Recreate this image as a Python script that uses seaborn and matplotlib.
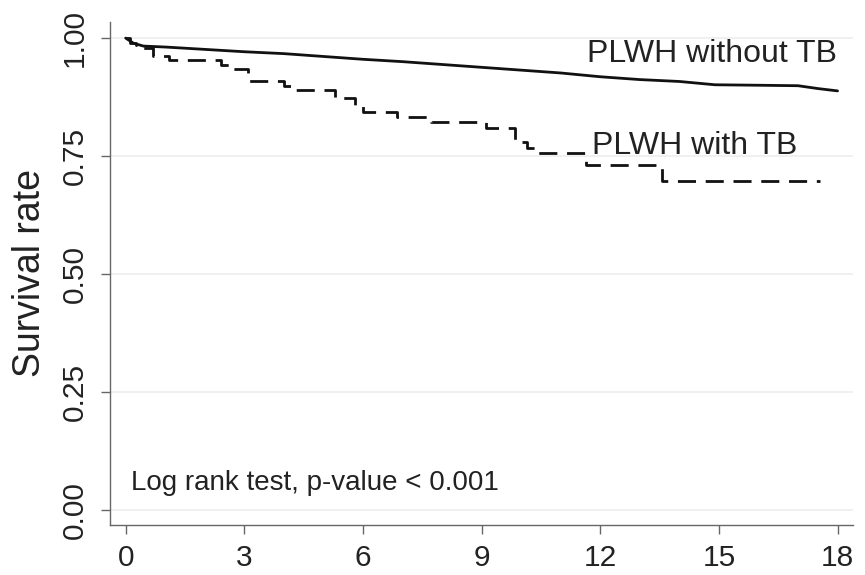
import matplotlib
matplotlib.use("Agg")
import matplotlib.pyplot as plt
import seaborn as sns
import pandas as pd

# ---- data ----
time_without_tb = [0, 0.2, 0.45, 1, 2, 3, 4, 5, 6, 7, 8, 9, 10, 11, 12, 13, 14, 14.9, 16, 17, 17.5, 18]
surv_without_tb = [1.0, 0.989, 0.983, 0.981, 0.976, 0.971, 0.967, 0.961, 0.955, 0.950, 0.944, 0.938,
                   0.932, 0.926, 0.918, 0.912, 0.908, 0.901, 0.900, 0.899, 0.893, 0.888]

time_with_tb = [0, 0.1, 0.25, 0.45, 0.7, 1.1, 2.4, 2.7, 3.1, 4.0, 4.2, 5.3, 5.8, 6.0, 6.85, 7.72,
                9.1, 9.85, 10.15, 10.35, 11.65, 13.55, 17.55]
surv_with_tb = [1.0, 0.99, 0.985, 0.979, 0.963, 0.953, 0.942, 0.934, 0.909, 0.898, 0.889, 0.872,
                0.858, 0.843, 0.833, 0.823, 0.809, 0.780, 0.768, 0.756, 0.731, 0.698, 0.698]

x_ticks = [0, 3, 6, 9, 12, 15, 18]
y_ticks = [0.00, 0.25, 0.50, 0.75, 1.00]
y_tick_labels = ["0.00", "0.25", "0.50", "0.75", "1.00"]
label_without = "PLWH without TB"
label_with = "PLWH with TB"
annotation = "Log rank test, p-value < 0.001"

df_without = pd.DataFrame({"time": time_without_tb, "surv": surv_without_tb})
df_with = pd.DataFrame({"time": time_with_tb, "surv": surv_with_tb})

sns.set_style("white")
plt.rcParams["font.family"] = ["Liberation Sans", "DejaVu Sans"]

fig = plt.figure(figsize=(8.65, 5.75), dpi=100)
ax = fig.add_axes([0.1272, 0.087, 0.8589, 0.8747])

sns.lineplot(data=df_without, x="time", y="surv", ax=ax, color="#111111", linewidth=2.0,
             estimator=None, sort=False)
sns.lineplot(data=df_with, x="time", y="surv", ax=ax, color="#111111", linewidth=2.0,
             drawstyle="steps-post", estimator=None, sort=False, linestyle=(0, (6.5, 3.5)))

ax.set_xlim(-0.395, 18.39)
ax.set_ylim(-0.032, 1.034)
ax.set_xticks(x_ticks)
ax.set_yticks(y_ticks)
ax.set_yticklabels(y_tick_labels)

for v in y_ticks:
    ax.axhline(v, color="#eeeeee", linewidth=1.2, zorder=0)

ax.spines["top"].set_visible(False)
ax.spines["right"].set_visible(False)
for s in ["left", "bottom"]:
    ax.spines[s].set_color("#666666")
    ax.spines[s].set_linewidth(1.0)

ax.tick_params(axis="both", which="major", direction="out", length=6.5, width=1.0,
               color="#666666", labelsize=21.5, labelcolor="#222222", bottom=True, left=True)
ax.tick_params(axis="x", pad=7)
ax.tick_params(axis="y", pad=9, labelrotation=90)
for lab in ax.get_yticklabels():
    lab.set_va("center")

ax.set_xlabel("")
ax.set_ylabel("Survival rate", fontsize=27, color="#222222", labelpad=9)

ax.text(11.67, 0.966, label_without, fontsize=23, color="#222222", ha="left", va="center")
ax.text(11.8, 0.772, label_with, fontsize=23, color="#222222", ha="left", va="center")
ax.text(0.145, 0.057, annotation, fontsize=20, color="#222222", ha="left", va="center")

fig.savefig("out.png", dpi=100)
